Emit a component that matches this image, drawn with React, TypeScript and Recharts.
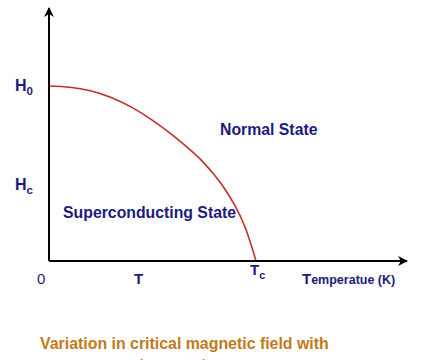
import { LineChart, Line, XAxis, YAxis, ReferenceDot } from "recharts";

// reduced temperature T/Tc and reduced critical field Hc/H0
const temps = [0, 0.1, 0.2, 0.3, 0.4, 0.5, 0.6, 0.7, 0.75, 0.8, 0.85, 0.9, 0.95, 1.0];
const fields = [1.0, 0.993, 0.973, 0.935, 0.878, 0.804, 0.716, 0.616, 0.558, 0.49, 0.41, 0.312, 0.184, 0];

const xTicks = [0, 0.43, 1];
const xTickLabels = ["0", "T", "T|c"];
const yTicks = [1, 0.434];
const yTickLabels = ["H|0", "H|c"];

const data = temps.map((t, i) => ({ t, h: fields[i] }));

const X_MAX = 1.729;
const Y_MAX = 1.446;
const NAVY = "#1b1b7e";
const FONT = "'Liberation Sans', Arial, sans-serif";

function SubLabel({ text, x, y, size, weight = 700 }: { text: string; x: number; y: number; size: number; weight?: number }) {
  const [main, sub] = text.split("|");
  return (
    <text x={x} y={y} fill={NAVY} fontFamily={FONT} fontWeight={weight} fontSize={size}>
      {main}
      {sub && (
        <tspan fontSize={size * 0.72} dy={4}>
          {sub}
        </tspan>
      )}
    </text>
  );
}

function XTick(props: any) {
  const i = xTicks.indexOf(props.payload.value);
  const label = xTickLabels[i];
  if (i === 0) return <SubLabel text={label} x={props.x - 12} y={284} size={15} weight={400} />;
  if (i === 2) return <SubLabel text={label} x={props.x - 6} y={275} size={15} />;
  return <SubLabel text={label} x={props.x - 4} y={284} size={15} />;
}

function YTick(props: any) {
  const i = yTicks.indexOf(props.payload.value);
  return <SubLabel text={yTickLabels[i]} x={15} y={props.y + 5} size={16} />;
}

const UpArrow = (p: any) => (
  <polygon points={`${p.cx},${p.cy - 1} ${p.cx - 5},${p.cy + 9} ${p.cx},${p.cy + 6} ${p.cx + 5},${p.cy + 9}`} fill="#000" />
);
const RightArrow = (p: any) => (
  <polygon points={`${p.cx + 1},${p.cy} ${p.cx - 9},${p.cy - 5} ${p.cx - 6},${p.cy} ${p.cx - 9},${p.cy + 5}`} fill="#000" />
);
const TextMark = (text: string, size: number) => (p: any) => (
  <text x={p.cx} y={p.cy + 5} fill={NAVY} fontFamily={FONT} fontWeight={700} fontSize={size}>
    {text}
  </text>
);

export default function App() {
  return (
    <div style={{ position: "absolute", left: 0, top: 0, width: 441, height: 360, background: "#fff", overflow: "hidden" }}>
      <LineChart width={441} height={360} data={data} margin={{ top: 8, right: 34, bottom: 69, left: 9 }}>
        <XAxis
          type="number"
          dataKey="t"
          domain={[0, X_MAX]}
          ticks={xTicks}
          tick={<XTick />}
          tickLine={false}
          height={30}
          axisLine={{ stroke: "#000", strokeWidth: 2 }}
        />
        <YAxis
          type="number"
          domain={[0, Y_MAX]}
          ticks={yTicks}
          tick={<YTick />}
          tickLine={false}
          width={40}
          axisLine={{ stroke: "#000", strokeWidth: 2 }}
        />
        <Line
          type="natural"
          dataKey="h"
          stroke="#c0302a"
          strokeWidth={1.6}
          dot={false}
          isAnimationActive={false}
        />
        <ReferenceDot x={0} y={Y_MAX} r={0} shape={UpArrow} ifOverflow="visible" />
        <ReferenceDot x={X_MAX} y={0} r={0} shape={RightArrow} ifOverflow="visible" />
        <ReferenceDot x={0.826} y={0.749} r={0} shape={TextMark("Normal State", 15.8)} ifOverflow="visible" />
        <ReferenceDot x={0.068} y={0.274} r={0} shape={TextMark("Superconducting State", 15.8)} ifOverflow="visible" />
      </LineChart>
      <div
        style={{
          position: "absolute",
          left: 40,
          top: 333,
          width: 290,
          textAlign: "center",
          fontFamily: FONT,
          fontWeight: 700,
          fontSize: 15.9,
          lineHeight: "21px",
          color: "#c07a1c",
          whiteSpace: "nowrap",
        }}
      >
        <div style={{ textAlign: "left" }}>Variation in critical magnetic field with</div>
        <div>temperature</div>
      </div>
      <div
        style={{
          position: "absolute",
          left: 302,
          top: 270,
          fontFamily: FONT,
          fontWeight: 700,
          fontSize: 12.5,
          color: NAVY,
          whiteSpace: "nowrap",
        }}
      >
        <span style={{ fontSize: 15 }}>T</span>emperatue (K)
      </div>
    </div>
  );
}
